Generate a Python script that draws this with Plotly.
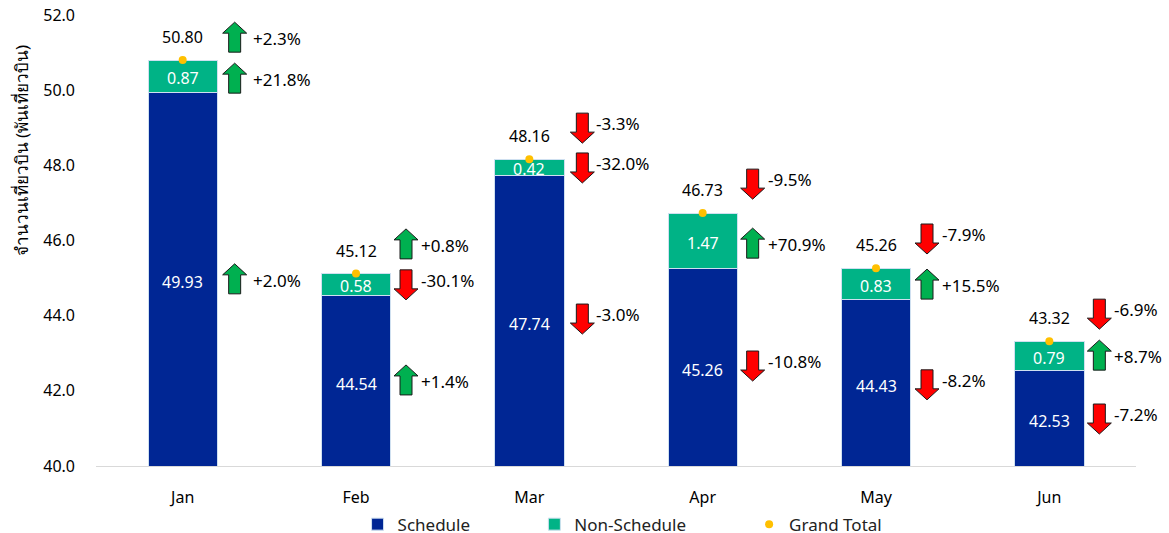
import plotly.graph_objects as go

months = ["Jan", "Feb", "Mar", "Apr", "May", "Jun"]
schedule = [49.93, 44.54, 47.74, 45.26, 44.43, 42.53]
non_schedule = [0.87, 0.58, 0.42, 1.47, 0.83, 0.79]
grand_total = [50.80, 45.12, 48.16, 46.73, 45.26, 43.32]

# change labels per month: grand total, non-schedule, schedule
change_total = ["+2.3%", "+0.8%", "-3.3%", "-9.5%", "-7.9%", "-6.9%"]
change_non = ["+21.8%", "-30.1%", "-32.0%", "+70.9%", "+15.5%", "+8.7%"]
change_sched = ["+2.0%", "+1.4%", "-3.0%", "-10.8%", "-8.2%", "-7.2%"]

# heights on the value axis at which the change call-outs sit
level_total = [51.41, 45.91, 48.99, 47.50, 46.04, 44.04]
level_non = [50.32, 44.82, 47.93, 45.93, 44.84, 42.95]
level_sched = [44.98, 42.29, 43.91, 42.66, 42.16, 41.25]

# pixel offsets of arrows and their labels from each month's centre
arrow_dx = [52, 50, 53, 50, 51, 50]
label_dx = [68, 63, 65, 63, 64, 63]

FONT = "Noto Sans, Tahoma, sans-serif"
NAVY, TEAL, GOLD = "#002694", "#00B386", "#FFC000"
UP, DOWN = "#00B050", "#FF0000"
AXIS_MIN = 40


def arrow_path(dx, up):
    s = 1 if up else -1
    pts = [(0, 15), (12, 4), (6, 4), (6, -15), (-6, -15), (-6, 4), (-12, 4)]
    return "M" + " L".join(f"{x + dx},{s * y}" for x, y in pts) + " Z"


fig = go.Figure()
fig.add_bar(x=months, y=schedule, name="Schedule",
            marker=dict(color=NAVY, line=dict(color="#CFE0F0", width=1)), legend="legend")
fig.add_bar(x=months, y=non_schedule, name="Non-Schedule",
            marker=dict(color=TEAL, line=dict(color="#CFE0F0", width=1)), legend="legend2")
fig.add_scatter(x=months, y=grand_total, name="Grand Total", mode="markers",
                marker=dict(color=GOLD, size=8), legend="legend3")

for i, m in enumerate(months):
    fig.add_annotation(x=m, y=(AXIS_MIN + schedule[i]) / 2, text=f"{schedule[i]:.2f}", showarrow=False,
                       yshift=-3, font=dict(size=16, color="white", family=FONT))
    fig.add_annotation(x=m, y=schedule[i] + non_schedule[i] / 2, text=f"{non_schedule[i]:.2f}", showarrow=False,
                       yshift=-2, font=dict(size=16, color="white", family=FONT))
    fig.add_annotation(x=m, y=grand_total[i], text=f"{grand_total[i]:.2f}", showarrow=False,
                       yshift=23, font=dict(size=16, color="#000000", family=FONT))
    for labels, levels in ((change_total, level_total), (change_non, level_non), (change_sched, level_sched)):
        label = labels[i]
        up = label[0] == "+"
        fig.add_shape(type="path", xref="x", yref="y", xsizemode="pixel", ysizemode="pixel",
                      xanchor=i, yanchor=levels[i], path=arrow_path(arrow_dx[i], up),
                      fillcolor=UP if up else DOWN, line=dict(color="#1A1A1A", width=1))
        fig.add_annotation(x=m, y=levels[i], text=label, showarrow=False, xanchor="left", xshift=label_dx[i],
                           yshift=-1.5 if up else 4.5, font=dict(size=17, color="#000000", family=FONT))

fig.add_annotation(xref="paper", yref="paper", x=-0.072, y=0.70, xanchor="center", yanchor="middle",
                   textangle=-90, showarrow=False,
                   text="จำนวนเที่ยวบิน (พันเที่ยวบิน)", font=dict(size=17, color="#000000", family=FONT))

legend_common = dict(orientation="h", yanchor="top", y=-0.09, xanchor="left",
                     font=dict(size=17, color="#222222", family=FONT), bgcolor="rgba(0,0,0,0)")
fig.update_layout(
    width=1169, height=533, barmode="stack", bargap=0.6,
    margin=dict(l=96, r=33, t=15, b=67, autoexpand=False),
    paper_bgcolor="white", plot_bgcolor="white", font=dict(family=FONT, size=16, color="#000000"),
    showlegend=True,
    legend=dict(x=0.2515, **legend_common), legend2=dict(x=0.4215, **legend_common), legend3=dict(x=0.628, **legend_common),
    xaxis=dict(range=[-0.5, 5.5], showline=True, linecolor="#D9D9D9", linewidth=1, ticks="", ticklabelstandoff=17),
    yaxis=dict(range=[AXIS_MIN, 52], dtick=2, tickformat=".1f", showgrid=False, zeroline=False, showline=False,
               ticklabelstandoff=20),
)
fig.write_html("out.html", config=dict(displayModeBar=False), post_script="document.body.style.margin='0';")
